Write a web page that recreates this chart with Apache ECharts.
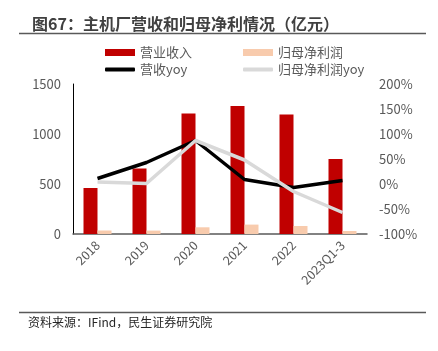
<!DOCTYPE html>
<html>
<head>
<meta charset="utf-8">
<script src="https://cdn.jsdelivr.net/npm/echarts@6/dist/echarts.min.js"></script>
<style>
  html, body { margin: 0; padding: 0; background: #fff; }
  #chart { width: 438px; height: 351px; }
</style>
</head>
<body>
<div id="chart"></div>
<script>
// 数据
const categories = ['2018', '2019', '2020', '2021', '2022', '2023Q1-3'];
const revenue = [460, 655, 1205, 1280, 1195, 750];       // 营业收入（亿元）
const netProfit = [35, 34, 67, 94, 80, 30];              // 归母净利润（亿元）
const revenueYoy = [11, 43, 87, 9, -7, 7];               // 营收yoy（%）
const profitYoy = [4, 1, 87, 48, -15, -57];              // 归母净利润yoy（%）

const font = '"Noto Sans CJK SC", "Noto Sans", sans-serif';
const chart = echarts.init(document.getElementById('chart'));

// 每个图例单独放，方便对齐
function legendItem(name, left, top, icon, h) {
  return {
    left: left, top: top, itemWidth: 30, itemHeight: h, icon: icon,
    textStyle: { fontSize: 13, color: '#595959', fontFamily: font },
    data: [name]
  };
}

let option = {
  animation: false,
  textStyle: { fontFamily: font },
  title: {
    text: '图67：主机厂营收和归母净利情况（亿元）',
    left: 27,
    top: 11,
    textStyle: { fontSize: 16, fontWeight: 'bold', color: '#404040', fontFamily: font }
  },
  graphic: [
    { type: 'line', shape: { x1: 19, y1: 33.5, x2: 426, y2: 33.5 }, style: { stroke: '#595959', lineWidth: 1.5 } },
    { type: 'line', shape: { x1: 19, y1: 312.5, x2: 426, y2: 312.5 }, style: { stroke: '#595959', lineWidth: 1.5 } },
    {
      type: 'text', left: 28, top: 316,
      style: { text: '资料来源：IFind，民生证券研究院', fontSize: 12, fill: '#262626', fontFamily: font }
    }
  ],
  legend: [
    legendItem('营业收入', 100, 41, 'rect', 7),
    legendItem('归母净利润', 238, 41, 'rect', 7),
    legendItem('营收yoy', 100, 58, 'roundRect', 4),
    legendItem('归母净利润yoy', 238, 58, 'roundRect', 4)
  ],
  grid: { left: 73, right: 71, top: 84, bottom: 117 },
  xAxis: {
    type: 'category',
    data: categories,
    axisLine: { lineStyle: { color: '#595959', width: 1.5 } },
    axisTick: { show: false },
    axisLabel: { rotate: 45, fontSize: 12.5, color: '#595959', margin: 9, fontFamily: font }
  },
  yAxis: [
    {
      type: 'value', min: 0, max: 1500, interval: 500,
      axisLine: { show: true, lineStyle: { color: '#000', width: 1 } },
      axisTick: { show: false },
      splitLine: { show: false },
      axisLabel: { fontSize: 13, color: '#595959', margin: 12, fontFamily: font, formatter: v => String(v) }
    },
    {
      type: 'value', min: -100, max: 200, interval: 50,
      axisLine: { show: false },
      axisTick: { show: false },
      splitLine: { show: false },
      axisLabel: { fontSize: 13, color: '#595959', margin: 12, formatter: '{value}%', fontFamily: font }
    }
  ],
  series: [
    {
      name: '营业收入', type: 'bar', data: revenue,
      barWidth: 14, barGap: '0%',
      itemStyle: { color: '#C00000' }
    },
    {
      name: '归母净利润', type: 'bar', data: netProfit,
      barWidth: 14,
      itemStyle: { color: '#F8CBAD' }
    },
    {
      name: '营收yoy', type: 'line', yAxisIndex: 1, data: revenueYoy,
      symbol: 'none', lineStyle: { color: '#000', width: 3.5 }, itemStyle: { color: '#000' }
    },
    {
      name: '归母净利润yoy', type: 'line', yAxisIndex: 1, data: profitYoy,
      symbol: 'none', lineStyle: { color: '#D9D9D9', width: 3.5 }, itemStyle: { color: '#D9D9D9' }
    }
  ]
};

chart.setOption(option);
</script>
</body>
</html>
